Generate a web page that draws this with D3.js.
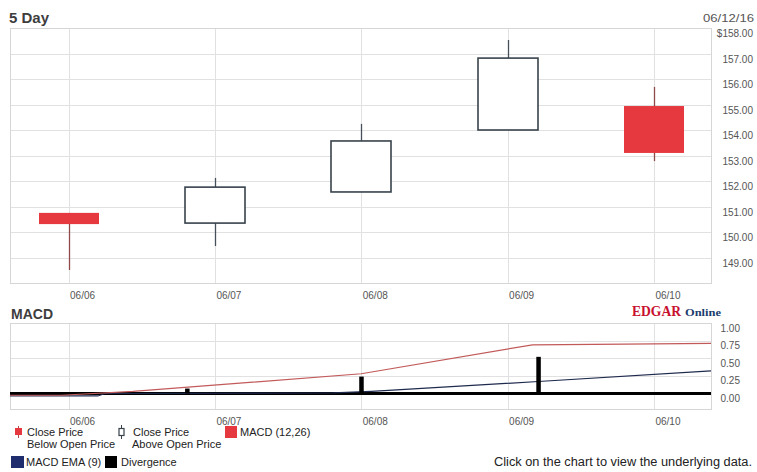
<!DOCTYPE html>
<html>
<head>
<meta charset="utf-8">
<script src="https://cdn.jsdelivr.net/npm/d3@7"></script>
<style>
  body { margin: 0; background: #fff; }
  svg { display: block; font-family: "Liberation Sans", Arial, sans-serif; }
</style>
</head>
<body>
<svg id="chart" width="757" height="472"></svg>
<script>
// ---- Daily OHLC prices ----
const dates      = ["06/06", "06/07", "06/08", "06/09", "06/10"];
const openPrice  = [150.75, 150.35, 151.57, 154.00, 154.94];
const closePrice = [150.31, 151.76, 153.57, 156.82, 153.10];
const highPrice  = [150.75, 152.12, 154.24, 157.53, 155.69];
const lowPrice   = [148.51, 149.45, 151.57, 154.00, 152.78];
const priceTicks = [158, 157, 156, 155, 154, 153, 152, 151, 150, 149];

// ---- MACD panel (positions are in trading-day units) ----
const macdPos = [-0.40, -0.05, 0.44, 2.00, 3.17, 3.80, 4.39];
const macdVal = [-0.025, -0.025, 0.03, 0.28, 0.69, 0.70, 0.71];
const emaPos  = [-0.40, 0.20, 0.25, 1.81, 2.07, 3.21, 4.39];
const emaVal  = [-0.035, -0.035, 0.0, 0.01, 0.03, 0.17, 0.32];
const divPos  = [0.81, 2.00, 3.21];
const divVal  = [0.07, 0.24, 0.52];
const macdTicks = [1.00, 0.75, 0.50, 0.25, 0.00];

const svg = d3.select("#chart");
const left = 10, right = 711;
const gridColor = "#e1e1e1";
const labelColor = "#555";

const x = d3.scaleLinear().domain([-0.4, 4.39]).range([left, right]);
const yP = d3.scaleLinear().domain([148, 158]).range([283, 28]);
const yM = d3.scaleLinear().domain([-0.22, 1]).range([409, 323]);

// ---- Titles ----
svg.append("text").attr("x", 9).attr("y", 23)
  .attr("font-size", 15).attr("font-weight", "bold").attr("fill", "#3d3d3d").text("5 Day");
svg.append("text").attr("x", 703).attr("y", 22)
  .attr("font-size", 11).attr("fill", labelColor)
  .attr("textLength", 51).attr("lengthAdjust", "spacingAndGlyphs").text("06/12/16");
svg.append("text").attr("x", 11).attr("y", 319)
  .attr("font-size", 14).attr("font-weight", "bold").attr("fill", "#3d3d3d").text("MACD");

// ---- Price panel grid and axes ----
const priceG = svg.append("g");
priceG.append("g").attr("transform", `translate(${right},0)`)
  .call(d3.axisRight(yP).tickValues(priceTicks).tickSize(-(right - left)).tickPadding(42)
    .tickFormat((d, i) => (i === 0 ? "$" : "") + d3.format(".2f")(d)))
  .call(g => g.select(".domain").remove())
  .call(g => g.selectAll("line").attr("stroke", gridColor).attr("shape-rendering", "crispEdges"))
  .call(g => g.selectAll("text").attr("text-anchor", "end").attr("dy", 8.5)
    .attr("font-size", 10).attr("fill", labelColor).attr("font-family", null));

priceG.append("g").attr("transform", `translate(0,283)`)
  .call(d3.axisBottom(x).tickValues(d3.range(dates.length)).tickSize(-255)
    .tickFormat(i => dates[i]))
  .call(g => g.select(".domain").remove())
  .call(g => g.selectAll("line").attr("stroke", gridColor).attr("shape-rendering", "crispEdges"))
  .call(g => g.selectAll("text").attr("text-anchor", "start").attr("x", 1).attr("y", 16).attr("dy", 0)
    .attr("font-size", 10).attr("fill", labelColor).attr("font-family", null));

priceG.append("rect").attr("x", left).attr("y", 28).attr("width", right - left).attr("height", 255)
  .attr("fill", "none").attr("stroke", "#d6d6d6").attr("shape-rendering", "crispEdges");

// ---- Candles ----
const candles = dates.map((d, i) => ({
  i, open: openPrice[i], close: closePrice[i], high: highPrice[i], low: lowPrice[i]
}));
const bodyW = 60;
const cg = svg.append("g").selectAll("g").data(candles).join("g");
cg.append("line")
  .attr("x1", d => Math.round(x(d.i)) + 0.5).attr("x2", d => Math.round(x(d.i)) + 0.5)
  .attr("y1", d => yP(d.high)).attr("y2", d => yP(d.low))
  .attr("stroke", d => d.close < d.open ? "#8e4a4a" : "#46505a").attr("stroke-width", 1.3);
cg.append("rect")
  .attr("x", d => Math.round(x(d.i)) - bodyW / 2)
  .attr("y", d => yP(Math.max(d.open, d.close)))
  .attr("width", bodyW)
  .attr("height", d => Math.abs(yP(d.open) - yP(d.close)))
  .attr("fill", d => d.close < d.open ? "#e5393f" : "#fff")
  .attr("stroke", d => d.close < d.open ? "none" : "#38424c")
  .attr("stroke-width", 1.6);

// ---- MACD panel grid and axes ----
const macdG = svg.append("g");
macdG.append("g").attr("transform", `translate(${right},0)`)
  .call(d3.axisRight(yM).tickValues(macdTicks).tickSize(-(right - left)).tickPadding(29)
    .tickFormat(d3.format(".2f")))
  .call(g => g.select(".domain").remove())
  .call(g => g.selectAll("line").attr("stroke", gridColor).attr("shape-rendering", "crispEdges"))
  .call(g => g.selectAll("text").attr("text-anchor", "end").attr("dy", 8)
    .attr("font-size", 10).attr("fill", labelColor).attr("font-family", null));

macdG.append("g").attr("transform", `translate(0,409)`)
  .call(d3.axisBottom(x).tickValues(d3.range(dates.length)).tickSize(-86)
    .tickFormat(i => dates[i]))
  .call(g => g.select(".domain").remove())
  .call(g => g.selectAll("line").attr("stroke", gridColor).attr("shape-rendering", "crispEdges"))
  .call(g => g.selectAll("text").attr("text-anchor", "start").attr("x", 1).attr("y", 16).attr("dy", 0)
    .attr("font-size", 10).attr("fill", labelColor).attr("font-family", null));

macdG.append("rect").attr("x", left).attr("y", 323).attr("width", right - left).attr("height", 86)
  .attr("fill", "none").attr("stroke", "#d6d6d6").attr("shape-rendering", "crispEdges");

// zero line of the divergence histogram
macdG.append("line").attr("x1", left).attr("x2", right)
  .attr("y1", yM(0)).attr("y2", yM(0)).attr("stroke", "#000").attr("stroke-width", 3);

const line = d3.line().x(d => x(d[0])).y(d => yM(d[1]));
macdG.append("path").datum(d3.zip(emaPos, emaVal)).attr("d", line)
  .attr("fill", "none").attr("stroke", "#1e2a4e").attr("stroke-width", 1.2);
macdG.append("path").datum(d3.zip(macdPos, macdVal)).attr("d", line)
  .attr("fill", "none").attr("stroke", "#c25a5a").attr("stroke-width", 1.2);

macdG.selectAll("rect.div").data(d3.zip(divPos, divVal)).join("rect").attr("class", "div")
  .attr("x", d => x(d[0]) - 2).attr("width", 4.5)
  .attr("y", d => yM(d[1])).attr("height", d => yM(0) - yM(d[1]))
  .attr("fill", "#000");

// ---- EDGAR Online mark ----
svg.append("text").attr("x", 632).attr("y", 316).attr("font-family", "'Liberation Serif', 'Times New Roman', serif")
  .attr("font-weight", "bold").attr("font-size", 14).attr("fill", "#c8102e")
  .attr("textLength", 49).attr("lengthAdjust", "spacingAndGlyphs").text("EDGAR");
svg.append("text").attr("x", 685).attr("y", 316).attr("font-family", "'Liberation Serif', 'Times New Roman', serif")
  .attr("font-weight", "bold").attr("font-size", 10.5).attr("fill", "#1b3d6d")
  .attr("textLength", 36).attr("lengthAdjust", "spacingAndGlyphs").text("Online");

// ---- Legend ----
const lg = svg.append("g").attr("font-size", 11).attr("fill", "#222");
// falling candle icon
lg.append("line").attr("x1", 18.5).attr("x2", 18.5).attr("y1", 426).attr("y2", 438).attr("stroke", "#b34a4a");
lg.append("rect").attr("x", 15).attr("y", 428).attr("width", 7).attr("height", 7).attr("fill", "#e5393f");
lg.append("text").attr("x", 27).attr("y", 436).text("Close Price");
lg.append("text").attr("x", 27).attr("y", 448).text("Below Open Price");
// rising candle icon
lg.append("line").attr("x1", 121.5).attr("x2", 121.5).attr("y1", 425).attr("y2", 439).attr("stroke", "#38424c");
lg.append("rect").attr("x", 119).attr("y", 428.5).attr("width", 5).attr("height", 7)
  .attr("fill", "#fff").attr("stroke", "#38424c").attr("stroke-width", 1.2);
lg.append("text").attr("x", 133).attr("y", 436).text("Close Price");
lg.append("text").attr("x", 132).attr("y", 448).text("Above Open Price");
// series swatches
lg.append("rect").attr("x", 225).attr("y", 426).attr("width", 12).attr("height", 12).attr("fill", "#e5393f");
lg.append("text").attr("x", 240).attr("y", 436).text("MACD (12,26)");
lg.append("rect").attr("x", 11).attr("y", 456).attr("width", 13).attr("height", 12).attr("fill", "#1f2d6e");
lg.append("text").attr("x", 26).attr("y", 466).text("MACD EMA (9)");
lg.append("rect").attr("x", 105).attr("y", 456).attr("width", 12).attr("height", 12).attr("fill", "#000");
lg.append("text").attr("x", 121).attr("y", 466).text("Divergence");

svg.append("text").attr("x", 494).attr("y", 466)
  .attr("font-size", 12).attr("fill", "#222")
  .attr("textLength", 258).attr("lengthAdjust", "spacingAndGlyphs")
  .text("Click on the chart to view the underlying data.");
</script>
</body>
</html>
